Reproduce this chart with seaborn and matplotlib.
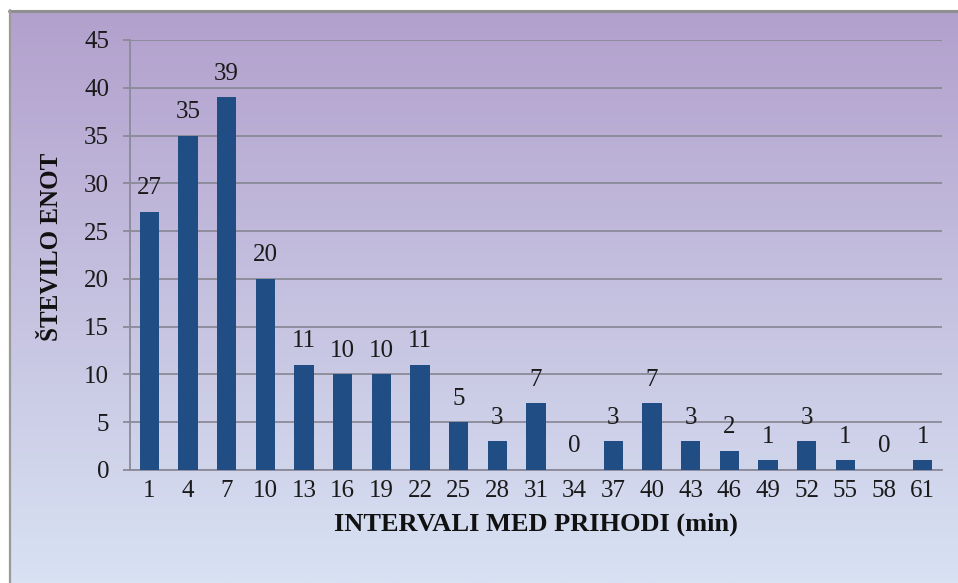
import numpy as np
import pandas as pd
import matplotlib
matplotlib.use("Agg")
import matplotlib.pyplot as plt
import seaborn as sns
from matplotlib.lines import Line2D

intervals = ["1", "4", "7", "10", "13", "16", "19", "22", "25", "28", "31",
             "34", "37", "40", "43", "46", "49", "52", "55", "58", "61"]
counts = [27, 35, 39, 20, 11, 10, 10, 11, 5, 3, 7, 0, 3, 7, 3, 2, 1, 3, 1, 0, 1]
y_ticks = [0, 5, 10, 15, 20, 25, 30, 35, 40, 45]

sns.set_theme(style="white")
plt.rcParams["font.family"] = ["Liberation Serif", "DejaVu Serif"]

W, H = 958, 583
fig = plt.figure(figsize=(W / 100, H / 100), dpi=100)
fig.patch.set_facecolor("white")

# gradient backdrop: lavender at the top fading into pale blue
bg = fig.add_axes([9 / W, 0, 1 - 9 / W, (H - 10) / H], zorder=-5)
top = np.array([178, 160, 205]) / 255
bottom = np.array([216, 226, 243]) / 255
t = np.linspace(0, 1, 256)[:, None]
grad = top[None, :] * (1 - t) + bottom[None, :] * t
bg.imshow(grad[:, None, :], aspect="auto", extent=[0, 1, 0, 1], origin="upper")
bg.set_axis_off()

# thin grey frame along the top and left edges
fig.add_artist(Line2D([9 / W, 1], [1 - 10.5 / H, 1 - 10.5 / H], color="#8f8f8f", lw=2.2,
                      transform=fig.transFigure))
fig.add_artist(Line2D([9.5 / W, 9.5 / W], [0, 1 - 10 / H], color="#9a9a9a", lw=1.6,
                      transform=fig.transFigure))

L, R, T, B = 130, 942, 40, 470
ax = fig.add_axes([L / W, 1 - B / H, (R - L) / W, (B - T) / H])
ax.set_facecolor("none")

df = pd.DataFrame({"interval": intervals, "count": counts})
sns.barplot(data=df, x="interval", y="count", order=intervals, color="#1f4d84",
            saturation=1, width=0.5, linewidth=0, ax=ax, zorder=3)

ax.set_ylim(0, 45)
ax.set_yticks(y_ticks)
ax.set_xlim(-0.5, len(intervals) - 0.5)
ax.yaxis.grid(True, color="#8a8a98", lw=1.3, zorder=0)
ax.set_axisbelow(True)
for side in ["top", "right"]:
    ax.spines[side].set_visible(False)
ax.spines["left"].set_color("#8a8a98")
ax.spines["left"].set_linewidth(1.3)
ax.spines["bottom"].set_color("#8a8a98")
ax.spines["bottom"].set_linewidth(1.3)

ax.tick_params(axis="y", which="major", length=5, width=1.3, color="#8a8a98",
               labelsize=18, pad=10, left=True)
ax.tick_params(axis="x", length=0, labelsize=18, pad=7)
for lbl in ax.get_xticklabels() + ax.get_yticklabels():
    lbl.set_color("#1a1a1a")

for container in ax.containers:
    ax.bar_label(container, labels=[str(v) for v in counts], padding=9,
                 fontsize=18, color="#1a1a1a")

ax.set_xlabel("INTERVALI MED PRIHODI (min)", fontsize=19, fontweight="bold",
              labelpad=8, color="#111111")
ax.set_ylabel("ŠTEVILO ENOT", fontsize=18, fontweight="bold", color="#111111",
              va="center")
ax.yaxis.set_label_coords(-0.097, 0.52)

fig.savefig("out.png", dpi=100)
